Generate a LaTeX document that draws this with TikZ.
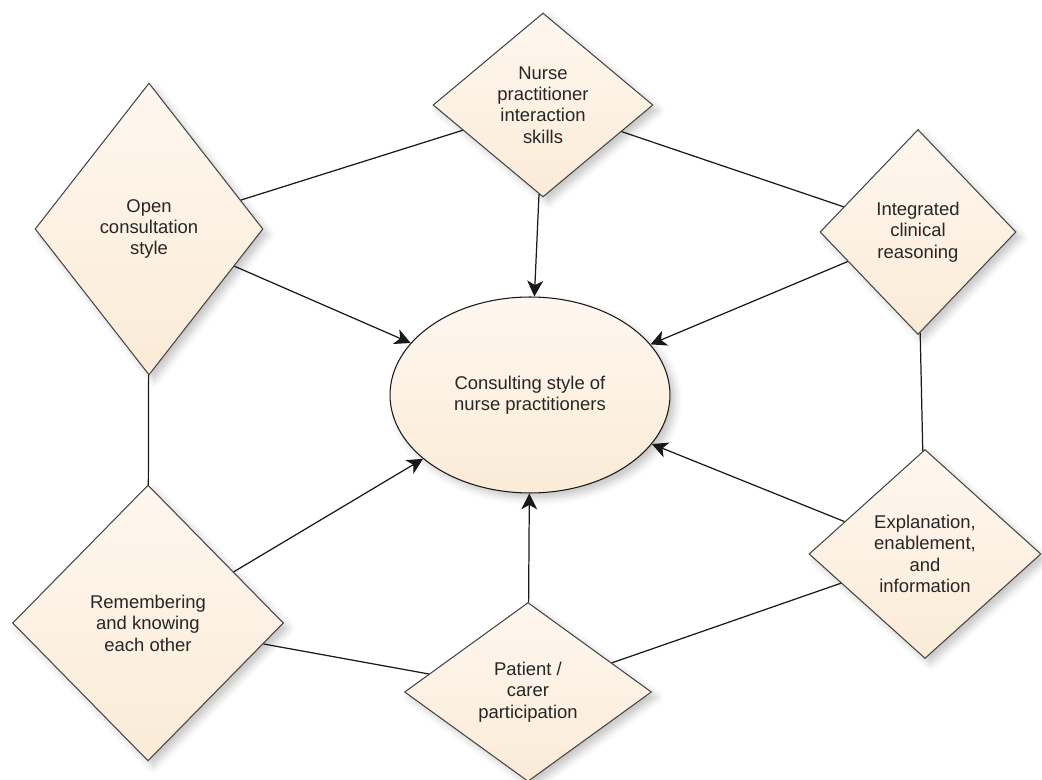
\documentclass[tikz,border=0pt]{standalone}
\usepackage{fontspec}
\setmainfont{Liberation Sans}
\usetikzlibrary{shapes.geometric,arrows.meta,shadows.blur}
\definecolor{peachtop}{RGB}{254,247,239}
\definecolor{peachbot}{RGB}{251,235,215}
\definecolor{edgegray}{RGB}{70,70,70}

\begin{document}
\begin{tikzpicture}[x=0.02cm, y=-0.02cm,
    every node/.style={font=\fontsize{10.5}{12.2}\selectfont, text=black!85},
    theme/.style={shape=diamond, draw=edgegray, line width=0.6pt, inner sep=0pt,
        align=center, top color=peachtop, bottom color=peachbot,
        blur shadow={shadow xshift=3pt, shadow yshift=-3pt,
            shadow blur radius=4pt, shadow opacity=22}},
    core/.style={theme, shape=ellipse, draw=black!90},
    link/.style={draw=black!90, line width=0.7pt},
    feeds/.style={link, -{Stealth[length=9pt, width=9pt, inset=2.5pt]}}]
    \useasboundingbox (0,0) rectangle (1042,780);

    \node[theme, minimum width=4.4cm, minimum height=3.68cm] (skills) at (543,105)
        {Nurse\\practitioner\\interaction\\skills};
    \node[theme, minimum width=4.56cm, minimum height=5.84cm] (open) at (149,229)
        {Open\\consultation\\style};
    \node[theme, minimum width=3.92cm, minimum height=4.1cm] (clinical) at (918,232)
        {Integrated\\clinical\\reasoning};
    \node[theme, minimum width=4.64cm, minimum height=4.18cm] (explain) at (925,554)
        {Explanation,\\enablement,\\and\\information};
    \node[theme, minimum width=4.94cm, minimum height=3.58cm] (patient) at (528,692)
        {Patient /\\carer\\participation};
    \node[theme, minimum width=5.42cm, minimum height=5.52cm] (remember) at (148,623)
        {Remembering\\and knowing\\each other};
    \node[core, minimum width=5.6cm, minimum height=3.92cm] (style) at (530,395)
        {Consulting style of\\nurse practitioners};

    % ring of themes
    \draw[link] (open) -- (skills);
    \draw[link] (skills) -- (clinical);
    \draw[link] (clinical) -- (explain);
    \draw[link] (explain) -- (patient);
    \draw[link] (patient) -- (remember);
    \draw[link] (remember) -- (open);

    % each theme feeds the consulting style
    \draw[feeds] (skills) -- (style);
    \draw[feeds] (open) -- (style);
    \draw[feeds] (clinical) -- (style);
    \draw[feeds] (explain) -- (style);
    \draw[feeds] (patient) -- (style);
    \draw[feeds] (remember) -- (style);
\end{tikzpicture}
\end{document}
